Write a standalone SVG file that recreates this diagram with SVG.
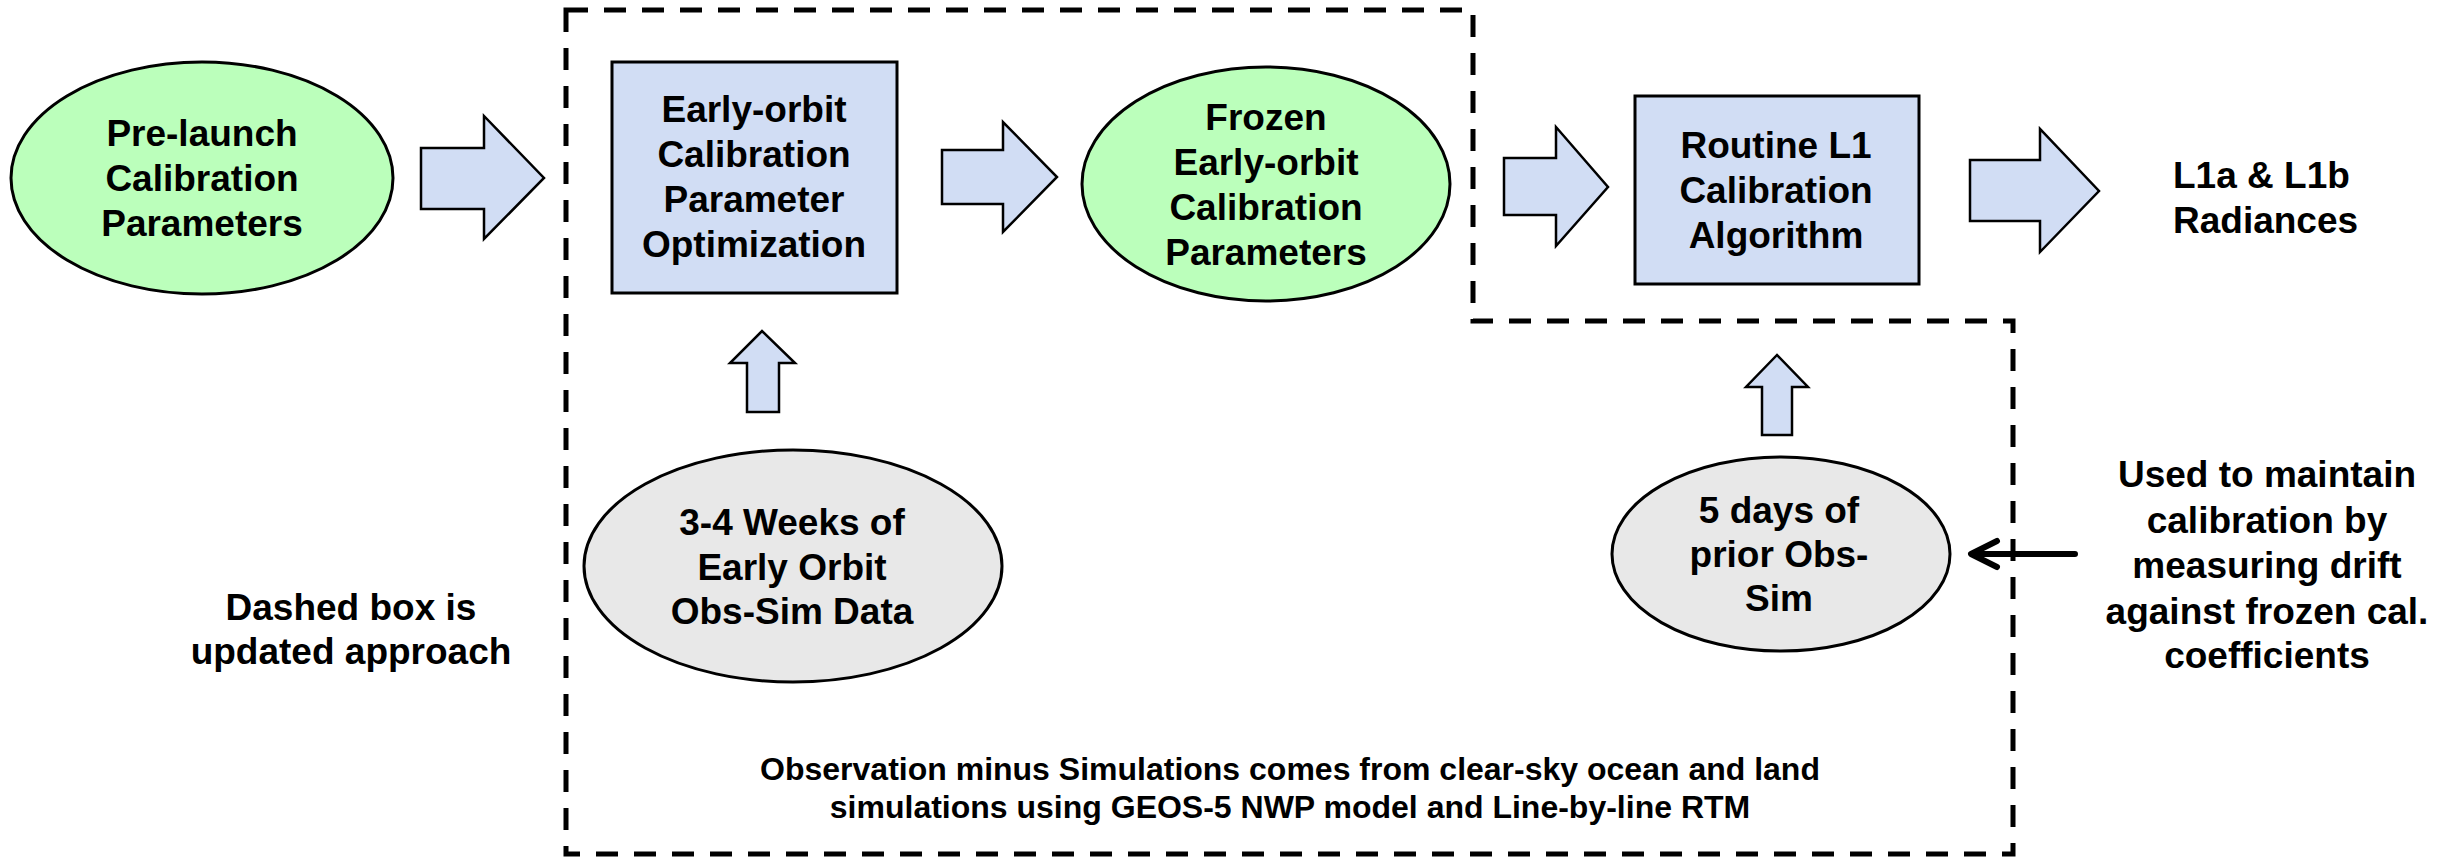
<svg xmlns="http://www.w3.org/2000/svg" width="2453" height="858" viewBox="0 0 2453 858">
<style>
text{font-family:"Liberation Sans",Arial,sans-serif;font-weight:bold;fill:#000;text-anchor:middle}
.t37{font-size:37px}
.t32{font-size:32px}
.green{fill:#bbffbb;stroke:#000;stroke-width:3}
.grey{fill:#e8e8e8;stroke:#000;stroke-width:3}
.box{fill:#d1ddf4;stroke:#000;stroke-width:3}
.barrow{fill:#d1ddf4;stroke:#000;stroke-width:2.5;stroke-linejoin:miter}
.dash{fill:none;stroke:#000;stroke-width:5;stroke-dasharray:22 16}
</style>
<rect width="2453" height="858" fill="#fff"/>
<g id="dashed-region">
<path class="dash" d="M566,10 H1473 V321 H2013 V854 H566 Z"/>
</g>
<g id="connectors">
<path class="barrow" d="M421,148 H484 V116 L544,178 L484,239 V209 H421 Z"/>
<path class="barrow" d="M942,150 H1003 V122 L1057,177 L1003,232 V204 H942 Z"/>
<path class="barrow" d="M1504,158 H1556 V127 L1608,187 L1556,246 V215 H1504 Z"/>
<path class="barrow" d="M1970,160 H2040 V129 L2099,191 L2040,252 V221 H1970 Z"/>
<path class="barrow" d="M747,412 V363 H730 L762,331 L795,363 H779 V412 Z"/>
<path class="barrow" d="M1762,435 V387 H1746 L1777,355 L1808,387 H1792 V435 Z"/>
<path d="M2075,554 H1973 M1997,541 L1971,554 L1997,567" fill="none" stroke="#000" stroke-width="6" stroke-linecap="round" stroke-linejoin="round"/>
</g>
<g id="prelaunch">
<ellipse class="green" cx="202" cy="178" rx="191" ry="116"/>
<text class="t37" x="202" y="146">Pre-launch</text>
<text class="t37" x="202" y="191">Calibration</text>
<text class="t37" x="202" y="236">Parameters</text>
</g>
<g id="early-orbit-opt">
<rect class="box" x="612" y="62" width="285" height="231"/>
<text class="t37" x="754" y="122">Early-orbit</text>
<text class="t37" x="754" y="167">Calibration</text>
<text class="t37" x="754" y="212">Parameter</text>
<text class="t37" x="754" y="257">Optimization</text>
</g>
<g id="frozen">
<ellipse class="green" cx="1266" cy="184" rx="184" ry="117"/>
<text class="t37" x="1266" y="130">Frozen</text>
<text class="t37" x="1266" y="175">Early-orbit</text>
<text class="t37" x="1266" y="220">Calibration</text>
<text class="t37" x="1266" y="265">Parameters</text>
</g>
<g id="routine">
<rect class="box" x="1635" y="96" width="284" height="188"/>
<text class="t37" x="1776" y="158">Routine L1</text>
<text class="t37" x="1776" y="203">Calibration</text>
<text class="t37" x="1776" y="248">Algorithm</text>
</g>
<g id="radiances">
<text class="t37" x="2173" y="188" style="text-anchor:start">L1a &amp; L1b</text>
<text class="t37" x="2173" y="233" style="text-anchor:start">Radiances</text>
</g>
<g id="weeks">
<ellipse class="grey" cx="793" cy="566" rx="209" ry="116"/>
<text class="t37" x="792" y="535">3-4 Weeks of</text>
<text class="t37" x="792" y="580">Early Orbit</text>
<text class="t37" x="792" y="624">Obs-Sim Data</text>
</g>
<g id="days">
<ellipse class="grey" cx="1781" cy="554" rx="169" ry="97"/>
<text class="t37" x="1779" y="523">5 days of</text>
<text class="t37" x="1779" y="567">prior Obs-</text>
<text class="t37" x="1779" y="611">Sim</text>
</g>
<g id="note-dashed">
<text class="t37" x="351" y="620">Dashed box is</text>
<text class="t37" x="351" y="664">updated approach</text>
</g>
<g id="note-maintain">
<text class="t37" x="2267" y="487">Used to maintain</text>
<text class="t37" x="2267" y="533">calibration by</text>
<text class="t37" x="2267" y="578">measuring drift</text>
<text class="t37" x="2267" y="624">against frozen cal.</text>
<text class="t37" x="2267" y="668">coefficients</text>
</g>
<g id="note-obs">
<text class="t32" x="1290" y="780">Observation minus Simulations comes from clear-sky ocean and land</text>
<text class="t32" x="1290" y="818">simulations using GEOS-5 NWP model and Line-by-line RTM</text>
</g>
</svg>
